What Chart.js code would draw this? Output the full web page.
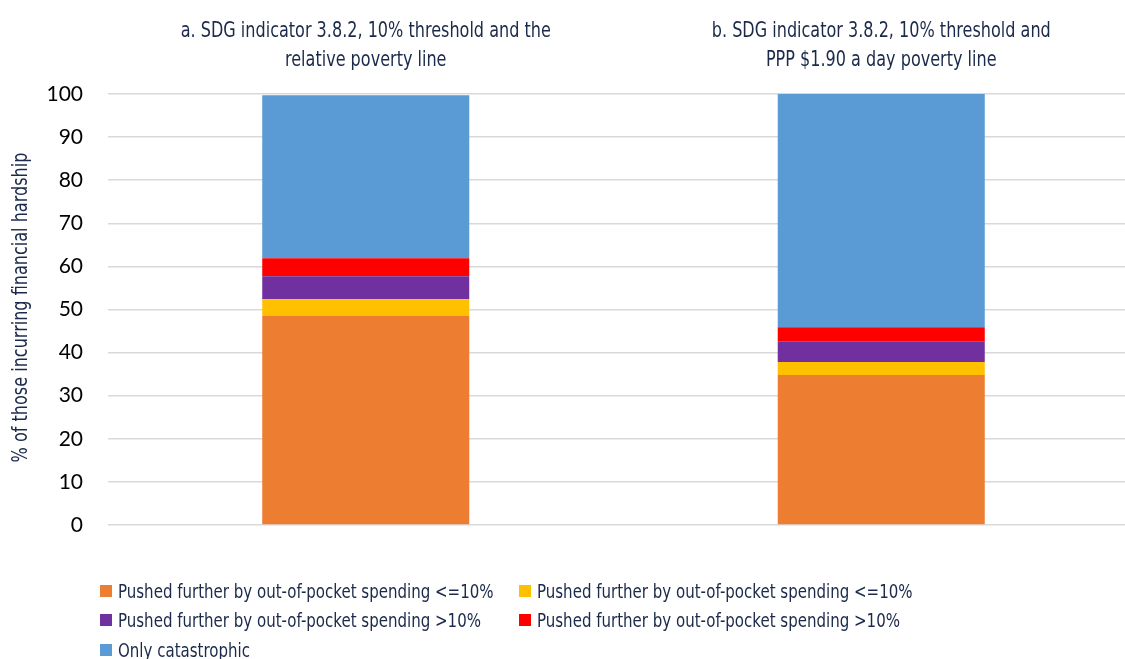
<!DOCTYPE html>
<html>
<head>
<meta charset="utf-8">
<title>Financial hardship</title>
<script src="https://cdn.jsdelivr.net/npm/chart.js@4.4.1/dist/chart.umd.min.js"></script>
<style>
    html, body { margin: 0; padding: 0; background: #fff; overflow: hidden; }
    #wrap { position: relative; width: 1125px; height: 659px; overflow: hidden; }
    #chart { position: absolute; left: 0; top: 0; }
    #legend {
        position: absolute; left: 100px; top: 579px;
        display: grid; grid-template-columns: 419px 400px; row-gap: 6.5px;
        font-family: 'DejaVu Sans Condensed', sans-serif;
        font-size: 20px; color: #1b2a4a;
    }
    .lg-item { display: flex; align-items: center; height: 23px; white-space: nowrap; }
    .lg-box { width: 12px; height: 12px; margin-right: 6px; flex: none; }
    .lg-txt { display: inline-block; transform: scaleX(0.835); transform-origin: left center; }
</style>
</head>
<body>
<div id="wrap">
    <canvas id="chart" width="1140" height="659"></canvas>
    <div id="legend"></div>
</div>
<script>
(function () {
    'use strict';

    // ── Data ────────────────────────────────────────────────────
    const CATEGORIES = [
        ['a. SDG indicator 3.8.2, 10% threshold and the', 'relative poverty line'],
        ['b. SDG indicator 3.8.2, 10% threshold and', 'PPP $1.90 a day poverty line'],
    ];
    const SERIES_NAMES = [
        'Pushed further by out-of-pocket spending <=10%',
        'Pushed further by out-of-pocket spending <=10%',
        'Pushed further by out-of-pocket spending >10%',
        'Pushed further by out-of-pocket spending >10%',
        'Only catastrophic',
    ];
    const PUSHED_LE10_A   = [48.5, 34.8];
    const PUSHED_LE10_B   = [3.9, 3.0];
    const PUSHED_GT10_A   = [5.3, 4.7];
    const PUSHED_GT10_B   = [4.2, 3.4];
    const ONLY_CATASTROPH = [37.8, 54.1];
    const Y_TICKS = [0, 10, 20, 30, 40, 50, 60, 70, 80, 90, 100];
    const Y_TITLE = '% of those incurring financial hardship';

    const COLORS = ['#ED7D31', '#FFC000', '#7030A0', '#FF0000', '#5B9BD5'];
    const NAVY = '#1b2a4a';
    const NARROW = "'DejaVu Sans Condensed', sans-serif";
    const SQUEEZE = 0.85;   // fake a narrower face

    const values = [PUSHED_LE10_A, PUSHED_LE10_B, PUSHED_GT10_A, PUSHED_GT10_B, ONLY_CATASTROPH];

    const datasets = values.map((v, i) => ({
        label: SERIES_NAMES[i],
        data: v,
        backgroundColor: COLORS[i],
        borderWidth: 0,
        barPercentage: 0.4016,
        categoryPercentage: 1,
    }));

    // category titles above the bars + rotated y title, squeezed horizontally
    const narrowText = {
        id: 'narrowText',
        afterDraw(chart) {
            const { ctx, chartArea, scales } = chart;
            ctx.save();
            ctx.fillStyle = NAVY;
            ctx.textAlign = 'center';
            ctx.textBaseline = 'middle';
            ctx.font = '21px ' + NARROW;
            CATEGORIES.forEach((lines, i) => {
                const x = scales.x.getPixelForValue(i);
                lines.forEach((line, j) => {
                    ctx.save();
                    ctx.translate(x, chartArea.top - 62 + j * 29);
                    ctx.scale(SQUEEZE, 1);
                    ctx.fillText(line, 0, 0);
                    ctx.restore();
                });
            });
            ctx.save();
            ctx.translate(22, (chartArea.top + chartArea.bottom) / 2 - 2);
            ctx.rotate(-Math.PI / 2);
            ctx.scale(SQUEEZE, 1);
            ctx.font = '21px ' + NARROW;
            ctx.fillText(Y_TITLE, 0, 0);
            ctx.restore();
            ctx.restore();
        },
    };

    const chart = new Chart(document.getElementById('chart'), {
        type: 'bar',
        data: { labels: CATEGORIES, datasets },
        options: {
            responsive: false,
            animation: false,
            layout: { padding: { top: 0, right: 1, bottom: 134, left: 0 } },
            plugins: { legend: { display: false }, tooltip: { enabled: false } },
            scales: {
                x: {
                    position: 'top',
                    stacked: true,
                    grid: { display: false, drawTicks: false },
                    border: { display: false },
                    ticks: { display: false },
                    afterFit: s => { s.height = 94; },
                },
                y: {
                    stacked: true,
                    min: 0,
                    max: 100,
                    afterBuildTicks: s => { s.ticks = Y_TICKS.map(v => ({ value: v })); },
                    grid: { color: '#d9d9d9', lineWidth: 1.6, drawTicks: false },
                    border: { display: false },
                    ticks: {
                        color: '#000',
                        font: { family: 'Lato, sans-serif', size: 21 },
                        padding: 25,
                    },
                    afterFit: s => { s.width = 108; },
                },
            },
        },
        plugins: [narrowText],
    });

    // ── Legend (two columns, built from the datasets) ───────────
    const legend = document.getElementById('legend');
    chart.data.datasets.forEach(ds => {
        const item = document.createElement('div');
        item.className = 'lg-item';
        const box = document.createElement('span');
        box.className = 'lg-box';
        box.style.background = ds.backgroundColor;
        const txt = document.createElement('span');
        txt.className = 'lg-txt';
        txt.textContent = ds.label;
        item.appendChild(box);
        item.appendChild(txt);
        legend.appendChild(item);
    });
})();
</script>
</body>
</html>
